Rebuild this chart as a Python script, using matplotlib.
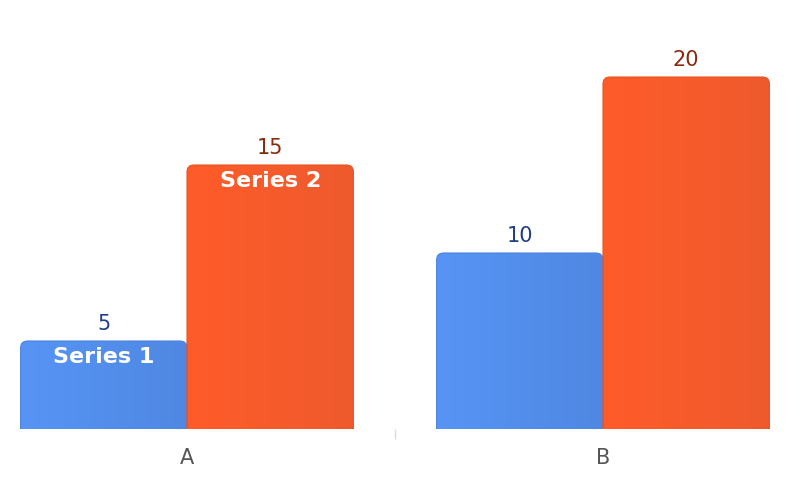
import numpy as np
import matplotlib.pyplot as plt
from matplotlib.patches import FancyBboxPatch
from matplotlib.colors import LinearSegmentedColormap

categories = ["A", "B"]
series_names = ["Series 1", "Series 2"]
series_values = [[5, 10], [15, 20]]

fill_colors = [("#5794f5", "#4f88e2"), ("#ff5c29", "#ee5a2e")]
edge_colors = ["#4a84e0", "#e9531f"]
label_colors = ["#1f3d8a", "#8a2a0c"]

PX_X = 416.0   # pixels per x unit
PX_Y = 17.6    # pixels per y unit


def rounded_gradient_bar(ax, rect, c0, c1, edge):
    x, y = rect.get_x(), rect.get_y()
    w, h = rect.get_width(), rect.get_height()
    rect.set_visible(False)
    r = 7 / PX_X
    # rounded patch extends below zero so only the top corners show
    patch = FancyBboxPatch((x, y - 2), w, h + 2,
                           boxstyle=f"round,pad=0,rounding_size={r}",
                           mutation_aspect=PX_X / PX_Y,
                           facecolor="none", edgecolor=edge, linewidth=0.8,
                           zorder=3)
    ax.add_patch(patch)
    cmap = LinearSegmentedColormap.from_list("g", [c0, c1])
    grad = np.linspace(0, 1, 256).reshape(1, -1)
    im = ax.imshow(grad, cmap=cmap, extent=(x, x + w, y, y + h),
                   aspect="auto", zorder=2)
    im.set_clip_path(patch)


fig = plt.figure(figsize=(8, 4.94), dpi=100)
ax = fig.add_axes([0, 65 / 494, 1, 429 / 494])

x = np.arange(len(categories))
width = 0.4
for i, (vals, name) in enumerate(zip(series_values, series_names)):
    offs = x + (i - 0.5) * width
    bars = ax.bar(offs, vals, width=width)
    for rect, v in zip(bars, vals):
        rounded_gradient_bar(ax, rect, fill_colors[i][0], fill_colors[i][1],
                             edge_colors[i])
        ax.annotate(str(v), (rect.get_x() + width / 2, v),
                    xytext=(0, 12), textcoords="offset points",
                    ha="center", va="center", fontsize=15,
                    color=label_colors[i], zorder=5)
    # series name shown inside the first bar
    first = bars[0]
    ax.annotate(name, (first.get_x() + width / 2, vals[0]),
                xytext=(0, -11.5), textcoords="offset points",
                ha="center", va="center", fontsize=16, fontweight="bold",
                color="white", zorder=5)

ax.set_xlim(-187 / PX_X, 613 / PX_X)
ax.set_ylim(0, 429 / PX_Y)
ax.set_xticks(x)
ax.set_xticklabels(categories, fontsize=15, color="#555555")
ax.tick_params(axis="x", length=0, pad=14)
ax.set_xticks([0.5], minor=True)
ax.tick_params(axis="x", which="minor", length=7, color="#dddddd", width=1)
ax.set_yticks([])
for s in ax.spines.values():
    s.set_visible(False)

fig.savefig("out.png", dpi=100)
